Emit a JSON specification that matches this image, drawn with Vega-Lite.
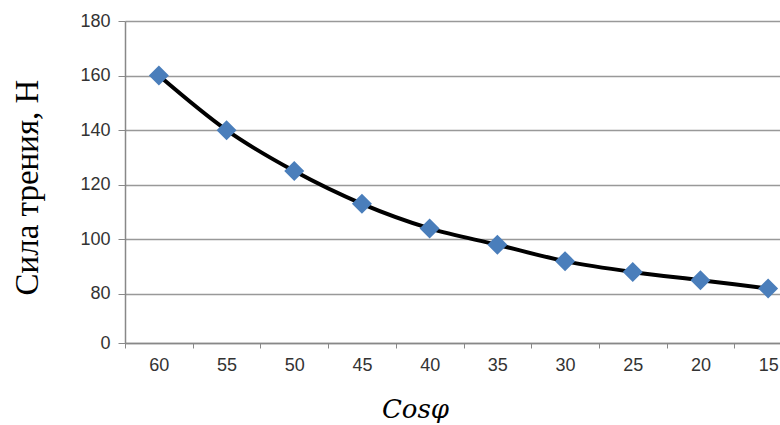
{
  "$schema": "https://vega.github.io/schema/vega-lite/v6.json",
  "autosize": "none",
  "width": 655,
  "height": 322,
  "padding": {"left": 125, "top": 21, "right": 0, "bottom": 82},
  "background": "white",
  "config": {"view": {"stroke": null}},
  "data": {
    "values": [
      {"angle": "60", "force": 160},
      {"angle": "55", "force": 140},
      {"angle": "50", "force": 125},
      {"angle": "45", "force": 113},
      {"angle": "40", "force": 104},
      {"angle": "35", "force": 98},
      {"angle": "30", "force": 92},
      {"angle": "25", "force": 88},
      {"angle": "20", "force": 85},
      {"angle": "15", "force": 82}
    ]
  },
  "encoding": {
    "x": {
      "field": "angle",
      "type": "ordinal",
      "sort": null,
      "scale": {"type": "band", "paddingInner": 0, "paddingOuter": 0, "range": [0, 677]},
      "axis": {
        "title": "Cosφ",
        "titleFont": "DejaVu Serif",
        "titleFontStyle": "italic",
        "titleFontWeight": "normal",
        "titleFontSize": 26,
        "titleColor": "#000000",
        "titleBaseline": "alphabetic",
        "titleX": 290,
        "titleY": 74,
        "titleAnchor": null,
        "labelAngle": 0,
        "labelFont": "Liberation Sans",
        "labelFontSize": 18,
        "labelColor": "#333333",
        "labelPadding": 8,
        "tickBand": "extent",
        "tickSize": 5,
        "tickColor": "#888888",
        "domainColor": "#888888",
        "domainWidth": 1.5,
        "grid": false
      }
    },
    "y": {
      "field": "force",
      "type": "quantitative",
      "scale": {"domain": [62, 180], "nice": false, "zero": false},
      "axis": {
        "values": [62, 80, 100, 120, 140, 160, 180],
        "labelExpr": "datum.value == 62 ? '0' : datum.label",
        "title": "Сила трения, Н",
        "titleFont": "Liberation Serif",
        "titleFontWeight": "normal",
        "titleFontSize": 33,
        "titleColor": "#000000",
        "titleAngle": -90,
        "titleBaseline": "alphabetic",
        "titleAlign": "center",
        "titleX": -88,
        "titleY": 166,
        "labelFont": "Liberation Sans",
        "labelFontSize": 18,
        "labelColor": "#333333",
        "labelPadding": 8,
        "tickSize": 7,
        "tickColor": "#888888",
        "domainColor": "#888888",
        "domainWidth": 1.5,
        "grid": true,
        "gridColor": "#999999",
        "gridWidth": 1.3
      }
    }
  },
  "layer": [
    {
      "mark": {"type": "line", "interpolate": "monotone", "color": "#000000", "strokeWidth": 4}
    },
    {
      "mark": {"type": "point", "shape": "diamond", "filled": true, "size": 400, "color": "#4a7ebb", "opacity": 1}
    }
  ]
}
